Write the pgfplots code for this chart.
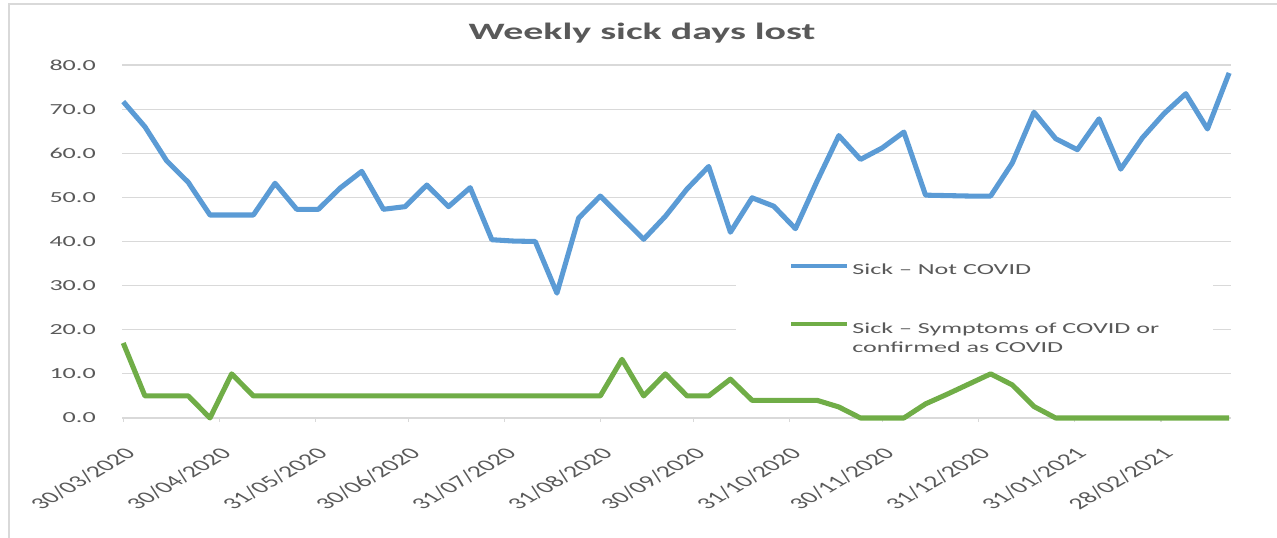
\documentclass[border=0pt]{standalone}
\usepackage{pgfplots}
\pgfplotsset{compat=1.18}
\usepackage{fontspec}
\setmainfont{Carlito}[FakeStretch=1.7]
\newfontfamily\plainfont{Carlito}
\definecolor{txtgray}{HTML}{595959}
\definecolor{gridgray}{HTML}{D9D9D9}
\definecolor{sblue}{HTML}{5B9BD5}
\definecolor{sgreen}{HTML}{70AD47}
\begin{document}
\begin{tikzpicture}
\useasboundingbox (0,0) rectangle (957.75pt,403.5pt);
\draw[gridgray, line width=1.1pt] (6.75pt,-2pt) -- (6.75pt,400.5pt) -- (960pt,400.5pt);
\node[anchor=base, font=\bfseries\fontsize{17.6}{21}\selectfont, text=txtgray] at (481.5pt,374pt) {Weekly sick days lost};
\begin{axis}[
  at={(91.5pt,90pt)}, anchor=south west,
  scale only axis, width=831.75pt, height=264.75pt,
  xmin=-0.4, xmax=357.6, ymin=0, ymax=80,
  clip=false,
  axis x line*=bottom, axis y line*=left,
  x axis line style={draw=gridgray, line width=1pt, -},
  y axis line style={draw=none},
  ytick={0,10,...,80},
  ymajorgrids, grid style={draw=gridgray, line width=0.9pt},
  ytick style={draw=none},
  xtick={0,31,62,92,123,154,184,215,245,276,307,335},
  xticklabels={30/03/2020,30/04/2020,31/05/2020,30/06/2020,31/07/2020,31/08/2020,30/09/2020,31/10/2020,30/11/2020,31/12/2020,31/01/2021,28/02/2021},
  xtick style={draw=gridgray, line width=1pt},
  tick align=outside, major tick length=3pt,
  yticklabel style={font=\fontsize{11.5}{13}\selectfont, text=txtgray, inner sep=0pt, anchor=east, xshift=-16.5pt},
  xticklabel style={font=\plainfont\fontsize{12.3}{14}\selectfont, text=txtgray, inner sep=0pt, anchor=east, xshift=5.5pt, yshift=-21.5pt, xscale=1.7, rotate=45},
  /pgf/number format/.cd, fixed, fixed zerofill, precision=1, assume math mode=true,
  /pgfplots/.cd,
  legend style={at={(0.5537,0.4759)}, anchor=north west, draw=none, fill=white,
    inner xsep=40pt, inner ysep=10pt, font=\fontsize{11.5}{14.25}\selectfont, text=txtgray,
    row sep=33pt, column sep=2.5pt, nodes={inner sep=0pt}},
  legend cell align=left,
  legend image code/.code={\draw[#1, line width=2.5pt] (0pt,0.3em) -- (42pt,0.3em);},
]
\addplot[sblue, line width=3.8pt, line join=round] coordinates {
(0,71.7)(7,66.0)(14,58.3)(21,53.4)(28,46.0)(35,46.0)(42,46.0)(49,53.2)(56,47.3)(63,47.3)
(70,52.1)(77,55.9)(84,47.3)(91,47.9)(98,52.8)(105,47.9)(112,52.2)(119,40.4)(126,40.1)(133,40.0)
(140,28.3)(147,45.3)(154,50.3)(161,45.4)(168,40.5)(175,45.7)(182,51.9)(189,57.0)(196,42.1)(203,49.9)
(210,48.0)(217,42.9)(224,53.7)(231,64.0)(238,58.6)(245,61.2)(252,64.8)(259,50.5)(266,50.4)(273,50.3)
(280,50.3)(287,57.8)(294,69.3)(301,63.3)(308,60.8)(315,67.8)(322,56.4)(329,63.5)(336,69.0)(343,73.5)
(350,65.5)(357,78.2)};
\addlegendentry{Sick – Not COVID}
\addplot[sgreen, line width=3.8pt, line join=round] coordinates {
(0,17.0)(7,5)(14,5)(21,5)(28,0)(35,10)(42,5)(49,5)(56,5)(63,5)
(70,5)(77,5)(84,5)(91,5)(98,5)(105,5)(112,5)(119,5)(126,5)(133,5)
(140,5)(147,5)(154,5)(161,13.3)(168,5)(175,10)(182,5)(189,5)(196,8.8)(203,4)
(210,4)(217,4)(224,4)(231,2.5)(238,0)(245,0)(252,0)(259,3.2)(266,5.4)(273,7.7)
(280,10)(287,7.5)(294,2.6)(301,0)(308,0)(315,0)(322,0)(329,0)(336,0)(343,0)
(350,0)(357,0)};
\addlegendentry{\begin{tabular}[t]{@{}l@{}}Sick – Symptoms of COVID or\\ confirmed as COVID\end{tabular}}
\end{axis}
\end{tikzpicture}
\end{document}
